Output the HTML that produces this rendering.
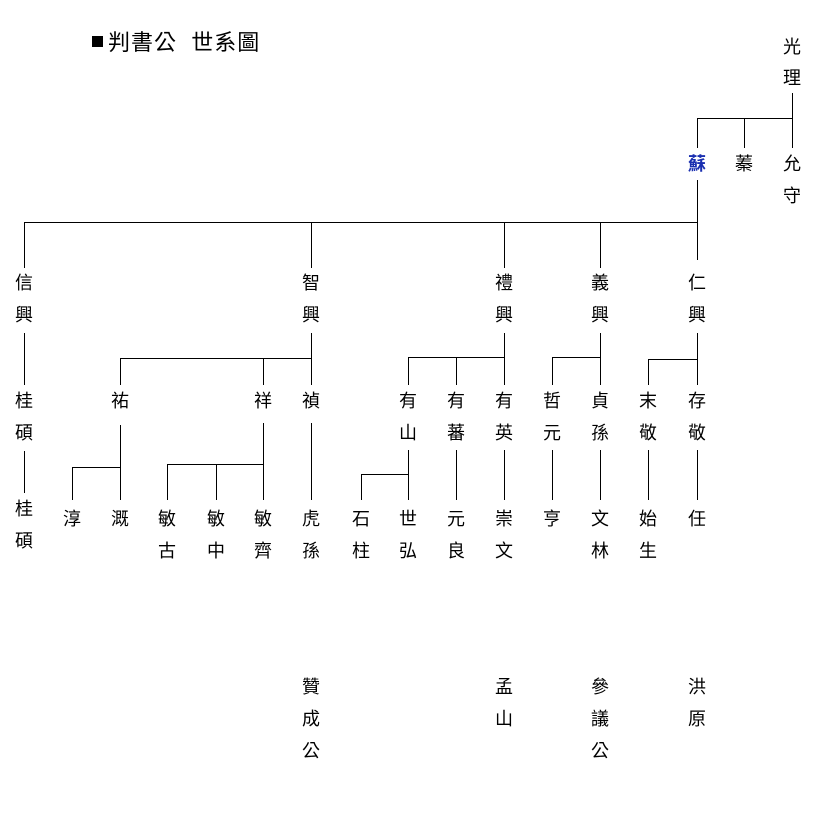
<!DOCTYPE html>
<html><head><meta charset="utf-8"><style>
html,body{margin:0;padding:0;background:#fff}
svg{display:block}
text{font-family:"Liberation Sans","Noto Sans CJK TC","Noto Sans CJK SC",sans-serif;font-size:18px;fill:#000}
</style></head><body>
<svg width="822" height="813" viewBox="0 0 822 813" xmlns="http://www.w3.org/2000/svg">
<rect width="822" height="813" fill="#fff"/>
<rect x="92" y="36" width="11" height="11" fill="#000"/>
<text x="108" y="50" style="font-size:22px;letter-spacing:1px">判書公&#160;&#160;世系圖</text>
<g stroke="#000" stroke-width="1" fill="none" shape-rendering="crispEdges">
<path d="M792.5 93V148M697.5 118.5H792.5M697.5 118V148M744.5 118V148"/>
<path d="M697.5 180V260M24.5 222.5H697.5M24.5 222V268M311.5 222V268M504.5 222V268M600.5 222V268"/>
<path d="M24.5 333V385M24.5 451V493"/>
<path d="M311.5 333V385M120.5 358.5H311.5M120.5 358V385M263.5 358V385"/>
<path d="M120.5 425V500M72.5 467.5H120.5M72.5 467V500"/>
<path d="M263.5 423V500M167.5 464.5H263.5M167.5 464V500M216.5 464V500M311.5 423V500"/>
<path d="M504.5 333V385M408.5 357.5H504.5M408.5 357V385M456.5 357V385"/>
<path d="M408.5 450V500M361.5 474.5H408.5M361.5 474V500M456.5 450V500M504.5 450V500"/>
<path d="M600.5 333V385M552.5 357.5H600.5M552.5 357V385M552.5 450V500M600.5 450V500"/>
<path d="M697.5 333V385M648.5 359.5H697.5M648.5 359V385M648.5 450V500M697.5 450V500"/>
</g>
<g text-anchor="middle" dominant-baseline="central">
<text x="792" y="47">光</text><text x="792" y="78">理</text>
<text x="697" y="164" style="fill:#1a2fb0;font-weight:bold">蘇</text>
<text x="744" y="164">蓁</text>
<text x="792" y="164">允</text><text x="792" y="196">守</text>

<text x="24" y="283">信</text><text x="24" y="315">興</text>
<text x="311" y="283">智</text><text x="311" y="315">興</text>
<text x="504" y="283">禮</text><text x="504" y="315">興</text>
<text x="600" y="283">義</text><text x="600" y="315">興</text>
<text x="697" y="283">仁</text><text x="697" y="315">興</text>

<text x="24" y="401">桂</text><text x="24" y="433">碩</text>
<text x="120" y="401">祐</text>
<text x="263" y="401">祥</text>
<text x="311" y="401">禎</text>
<text x="408" y="401">有</text><text x="408" y="433">山</text>
<text x="456" y="401">有</text><text x="456" y="433">蕃</text>
<text x="504" y="401">有</text><text x="504" y="433">英</text>
<text x="552" y="401">哲</text><text x="552" y="433">元</text>
<text x="600" y="401">貞</text><text x="600" y="433">孫</text>
<text x="648" y="401">末</text><text x="648" y="433">敬</text>
<text x="697" y="401">存</text><text x="697" y="433">敬</text>

<text x="24" y="509">桂</text><text x="24" y="541">碩</text>
<text x="72" y="519">淳</text>
<text x="120" y="519">溉</text>
<text x="167" y="519">敏</text><text x="167" y="551">古</text>
<text x="216" y="519">敏</text><text x="216" y="551">中</text>
<text x="263" y="519">敏</text><text x="263" y="551">齊</text>
<text x="311" y="519">虎</text><text x="311" y="551">孫</text>
<text x="361" y="519">石</text><text x="361" y="551">柱</text>
<text x="408" y="519">世</text><text x="408" y="551">弘</text>
<text x="456" y="519">元</text><text x="456" y="551">良</text>
<text x="504" y="519">崇</text><text x="504" y="551">文</text>
<text x="552" y="519">亨</text>
<text x="600" y="519">文</text><text x="600" y="551">林</text>
<text x="648" y="519">始</text><text x="648" y="551">生</text>
<text x="697" y="519">任</text>

<text x="311" y="687">贊</text><text x="311" y="719">成</text><text x="311" y="751">公</text>
<text x="504" y="687">孟</text><text x="504" y="719">山</text>
<text x="600" y="687">參</text><text x="600" y="719">議</text><text x="600" y="751">公</text>
<text x="697" y="687">洪</text><text x="697" y="719">原</text>
</g>
</svg>
</body></html>
